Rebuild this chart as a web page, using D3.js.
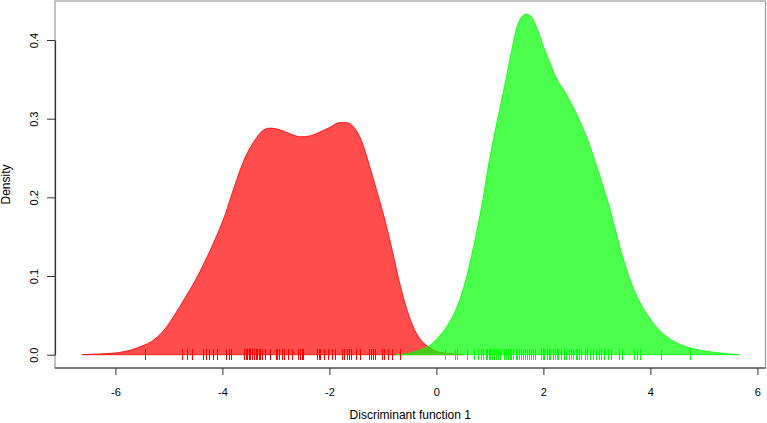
<!DOCTYPE html>
<html>
<head>
<meta charset="utf-8">
<script src="https://cdn.jsdelivr.net/npm/d3@7"></script>
<style>
  body { margin: 0; background: #fff; }
  svg text { font-family: "Liberation Sans", Arial, Helvetica, sans-serif; fill: #000; }
</style>
</head>
<body>
<svg id="chart" width="767" height="423"></svg>
<script>
// density curve of group 1 (red): [x, density]
const redDensity = [
  [-6.62, 0], [-6.28, 0.001], [-5.91, 0.003], [-5.54, 0.010], [-5.26, 0.020],
  [-5.07, 0.033], [-4.89, 0.051], [-4.70, 0.072], [-4.51, 0.094], [-4.33, 0.118],
  [-4.14, 0.146], [-3.95, 0.178], [-3.77, 0.215], [-3.58, 0.250], [-3.39, 0.273],
  [-3.26, 0.284], [-3.11, 0.288], [-2.93, 0.286], [-2.74, 0.281], [-2.55, 0.277],
  [-2.37, 0.278], [-2.18, 0.283], [-1.99, 0.289], [-1.81, 0.295], [-1.68, 0.295],
  [-1.53, 0.288], [-1.40, 0.272], [-1.25, 0.240], [-1.10, 0.205], [-0.95, 0.168],
  [-0.82, 0.131], [-0.69, 0.092], [-0.54, 0.055], [-0.41, 0.032], [-0.27, 0.017],
  [-0.12, 0.009], [0.06, 0.003], [0.34, 0.001], [0.51, 0]
];

// density curve of group 2 (green)
const greenDensity = [
  [-0.76, 0], [-0.50, 0.002], [-0.31, 0.006], [-0.12, 0.012], [0.06, 0.024],
  [0.25, 0.042], [0.40, 0.063], [0.55, 0.095], [0.70, 0.139], [0.85, 0.190],
  [0.99, 0.247], [1.14, 0.298], [1.28, 0.343], [1.39, 0.381], [1.50, 0.415],
  [1.59, 0.429], [1.68, 0.433], [1.78, 0.429], [1.89, 0.413], [2.00, 0.392],
  [2.12, 0.371], [2.23, 0.353], [2.41, 0.333], [2.64, 0.303], [2.86, 0.267],
  [3.05, 0.228], [3.24, 0.186], [3.42, 0.139], [3.61, 0.097], [3.80, 0.067],
  [3.98, 0.047], [4.17, 0.031], [4.39, 0.019], [4.63, 0.011], [4.91, 0.006],
  [5.19, 0.003], [5.66, 0]
];

// rug: individual scores of each group
const redRug = [
  -5.44, -4.75, -4.66, -4.56, -4.36, -4.30, -4.25, -4.18, -4.11, -3.93, -3.88, -3.84,
  -3.60, -3.59, -3.56, -3.54, -3.51, -3.49, -3.44, -3.41, -3.38, -3.35, -3.32, -3.29,
  -3.26, -3.21, -3.11, -3.00, -2.98, -2.94, -2.88, -2.85, -2.77, -2.69, -2.58, -2.55,
  -2.52, -2.49, -2.23, -2.20, -2.17, -2.11, -2.02, -1.96, -1.90, -1.76, -1.72, -1.68,
  -1.63, -1.60, -1.51, -1.43, -1.26, -1.22, -1.18, -1.15, -1.02, -0.98, -0.90, -0.83,
  -0.68
];

const greenRug = [
  0.16, 0.34, 0.39, 0.57, 0.70, 0.77, 0.83, 0.88, 0.93, 0.95, 0.98, 1.00, 1.04, 1.08,
  1.11, 1.15, 1.18, 1.26, 1.30, 1.34, 1.37, 1.40, 1.44, 1.48, 1.51, 1.55, 1.59, 1.62,
  1.66, 1.70, 1.74, 1.77, 1.81, 1.85, 1.95, 1.99, 2.02, 2.06, 2.10, 2.13, 2.18, 2.22,
  2.26, 2.28, 2.33, 2.38, 2.43, 2.48, 2.52, 2.56, 2.60, 2.63, 2.67, 2.71, 2.77, 2.82,
  2.87, 2.93, 2.98, 3.03, 3.08, 3.13, 3.20, 3.27, 3.42, 3.47, 3.69, 3.75, 3.80, 4.20,
  4.74
];

const xTicks = [-6, -4, -2, 0, 2, 4, 6];
const yTicks = [0, 0.1, 0.2, 0.3, 0.4];

const svg = d3.select("#chart");
const box = { left: 55, right: 765.5, top: 1, bottom: 368 };

// scales (tick positions)
const x = d3.scaleLinear().domain([-6, 6]).range([115.4, 757.4]);
const y = d3.scaleLinear().domain([0, 0.4]).range([354.7, 40]);

// plot frame
svg.append("rect")
  .attr("x", box.left).attr("y", box.top)
  .attr("width", box.right - box.left).attr("height", box.bottom - box.top)
  .attr("fill", "none").attr("stroke", "#9a9a9a").attr("stroke-width", 1.2);

// density polygons
const area = d3.area()
  .x((d) => x(d[0]))
  .y0(y(0))
  .y1((d) => y(d[1]))
  .curve(d3.curveMonotoneX);

svg.append("path").datum(redDensity).attr("d", area)
  .attr("fill", "rgba(255,0,0,0.7)").attr("stroke", "#ff0000").attr("stroke-width", 0.8);
svg.append("path").datum(greenDensity).attr("d", area)
  .attr("fill", "rgba(0,255,0,0.7)").attr("stroke", "#00ff00").attr("stroke-width", 0.8);

// rugs
function rug(values, color) {
  svg.append("g").selectAll("line").data(values).join("line")
    .attr("x1", (d) => Math.round(x(d)) + 0.5).attr("x2", (d) => Math.round(x(d)) + 0.5)
    .attr("y1", 349).attr("y2", 360)
    .attr("stroke", color).attr("stroke-width", 1);
}
rug(redRug, "#ff0000");
rug(greenRug, "#00ff00");

// x axis
svg.append("line")
  .attr("x1", box.left).attr("x2", box.right)
  .attr("y1", box.bottom).attr("y2", box.bottom)
  .attr("stroke", "#333").attr("stroke-width", 1.2);
const xAxis = svg.append("g")
  .attr("transform", `translate(0,${box.bottom})`)
  .call(d3.axisBottom(x).tickValues(xTicks).tickSize(7).tickPadding(13).tickFormat((d) => String(d)));
xAxis.select(".domain").remove();
xAxis.selectAll(".tick line").attr("stroke", "#333");
xAxis.selectAll("text").attr("font-size", 11).attr("font-family", "Liberation Sans, Arial, sans-serif");

// y axis
const yAxis = svg.append("g")
  .attr("transform", `translate(${box.left},0)`)
  .call(d3.axisLeft(y).tickValues(yTicks).tickSize(8).tickSizeOuter(0).tickFormat(d3.format(".1f")));
yAxis.select(".domain").attr("stroke", "#333").attr("stroke-width", 1.2);
yAxis.selectAll(".tick line").attr("stroke", "#333");
yAxis.selectAll(".tick text")
  .attr("font-size", 11).attr("font-family", "Liberation Sans, Arial, sans-serif")
  .attr("x", null).attr("dy", null)
  .attr("text-anchor", "middle")
  .attr("transform", "translate(-17,0) rotate(-90)");

// axis titles
svg.append("text")
  .attr("x", (box.left + box.right) / 2).attr("y", 419)
  .attr("text-anchor", "middle").attr("font-size", 12)
  .text("Discriminant function 1");
svg.append("text")
  .attr("transform", `translate(9.5,${(box.top + box.bottom) / 2}) rotate(-90)`)
  .attr("text-anchor", "middle").attr("font-size", 12)
  .text("Density");
</script>
</body>
</html>
